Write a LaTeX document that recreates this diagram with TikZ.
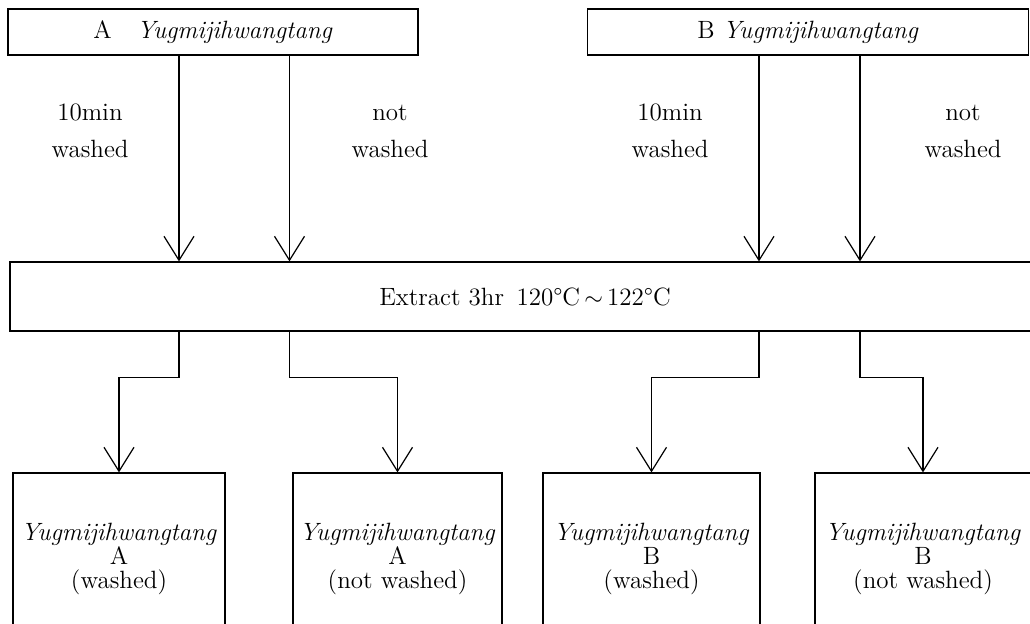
\documentclass[tikz,border=0pt]{standalone}
\usepackage{fontspec}
\usetikzlibrary{arrows.meta}
\tikzset{
  px/.style={x=0.5pt, y=-0.5pt, line width=0.6pt, font=\fontsize{12.5}{12}\selectfont},
  w box/.style={draw, inner sep=0pt, align=center},
  w out/.style={w box, minimum height=85.5pt},
  w lbl/.style={align=center, font=\fontsize{12.5}{18.5}\selectfont},
  w arr/.style={-{Straight Barb[length=12pt, width=15pt]}},
}

\begin{document}
\begin{tikzpicture}[px]
\useasboundingbox (0,0) rectangle (1030,623);
% sources
\node[w box, minimum width=205pt, minimum height=23pt] (srcA) at (213,32) {A\quad\textit{Yugmijihwangtang}};
\node[w box, minimum width=220.5pt, minimum height=23pt] (srcB) at (808,32) {B \textit{Yugmijihwangtang}};
% extraction
\node[w box, minimum width=515pt, minimum height=34.5pt] (ext) at (525,296.5) {Extract 3hr\enspace 120°C\,$\sim$\,122°C};
% products (cut off by the page bottom)
\node[w out, minimum width=106pt] (outA1) at (119,558.5) {\textit{Yugmijihwangtang}\\A\\(washed)};
\node[w out, minimum width=104.5pt] (outA2) at (397.5,558.5) {\textit{Yugmijihwangtang}\\A\\(not washed)};
\node[w out, minimum width=108.5pt] (outB1) at (651.5,558.5) {\textit{Yugmijihwangtang}\\B\\(washed)};
\node[w out, minimum width=108pt] (outB2) at (923,558.5) {\textit{Yugmijihwangtang}\\B\\(not washed)};
% labels
\node[w lbl] (lA1) at (90,131) {10min\\washed};
\node[w lbl] (lA2) at (390,131) {not\\washed};
\node[w lbl] (lB1) at (670,131) {10min\\washed};
\node[w lbl] (lB2) at (963,131) {not\\washed};
% stream positions
\coordinate (c1) at (179,296);
\coordinate (c2) at (289.5,296);
\coordinate (c3) at (759,296);
\coordinate (c4) at (860,296);
\draw[w arr] (c1 |- srcA.south) -- (c1 |- ext.north);
\draw[w arr] (c2 |- srcA.south) -- (c2 |- ext.north);
\draw[w arr] (c3 |- srcB.south) -- (c3 |- ext.north);
\draw[w arr] (c4 |- srcB.south) -- (c4 |- ext.north);
\draw[w arr] (c1 |- ext.south) -- ++(0,46) -| (outA1.north);
\draw[w arr] (c2 |- ext.south) -- ++(0,46) -| (outA2.north);
\draw[w arr] (c3 |- ext.south) -- ++(0,46) -| (outB1.north);
\draw[w arr] (c4 |- ext.south) -- ++(0,46) -| (outB2.north);
\end{tikzpicture}
\end{document}
